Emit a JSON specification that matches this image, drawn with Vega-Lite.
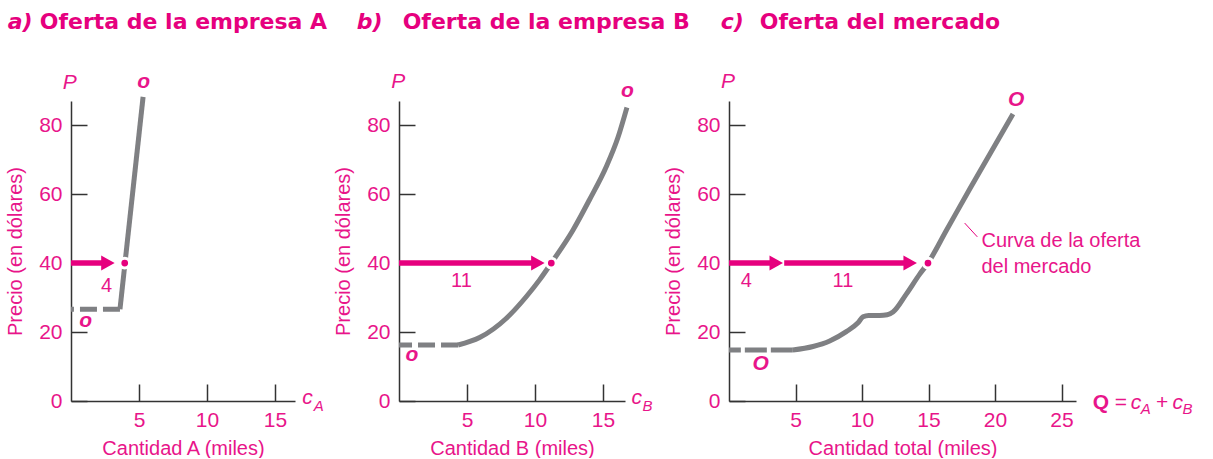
{
  "$schema": "https://vega.github.io/schema/vega-lite/v6.json",
  "padding": {"left": 5, "top": 10, "right": 0, "bottom": 0},
  "background": "white",
  "spacing": 104,
  "bounds": "flush",
  "config": {
    "view": {"stroke": null},
    "axis": {
      "grid": false, "domainColor": "#333333", "domainWidth": 1.5, "tickColor": "#333333", "tickWidth": 1.5,
      "labelColor": "#e8158a", "labelFont": "Liberation Sans", "labelFontSize": 21, "labelFlush": false,
      "titleColor": "#e8158a", "titleFont": "Liberation Sans", "titleFontSize": 20, "titleFontWeight": "normal"
    }
  },
  "hconcat": [
    {
      "width": 224, "height": 300,
      "encoding": {
        "x": {"field": "x", "type": "quantitative", "scale": {"domain": [0, 16.47], "nice": false},
              "axis": {"values": [5, 10, 15], "tickSize": -17, "labelPadding": 25, "title": "Cantidad A (miles)", "titlePadding": 8}},
        "y": {"field": "y", "type": "quantitative", "scale": {"domain": [0, 87], "nice": false},
              "axis": {"values": [0, 20, 40, 60, 80], "tickSize": -16, "labelPadding": 25, "title": "Precio (en dólares)", "titlePadding": 13}}
      },
      "layer": [
        {"data": {"values": [{"x": 3.6, "y": 26.6, "o": 1}, {"x": 0, "y": 26.6, "o": 2}]},
         "mark": {"type": "line", "color": "#7f8083", "strokeWidth": 5, "strokeDash": [17, 6]},
         "encoding": {"order": {"field": "o"}}},
        {"data": {"values": [{"x": 3.6, "y": 26.6}, {"x": 5.3, "y": 88.2}]},
         "mark": {"type": "line", "color": "#7f8083", "strokeWidth": 5}},
        {"data": {"values": [{"y": 10}, {"y": 30}, {"y": 50}, {"y": 70}]},
         "mark": {"type": "rule", "color": "#333333", "strokeWidth": 1.5},
         "encoding": {"x": {"datum": 0}, "x2": {"datum": 0.81}}},
        {"data": {"values": [{"x": 0, "x2": 2.8, "y": 40}]},
         "mark": {"type": "rule", "color": "#e6007e", "strokeWidth": 5.5},
         "encoding": {"x2": {"field": "x2"}}},
        {"data": {"values": [{"x": 3.21, "y": 40}]},
         "mark": {"type": "point", "shape": "M-1.8,-1L0,0L-1.8,1Z", "size": 225, "filled": true, "color": "#e6007e", "opacity": 1}},
        {"data": {"values": [{"x": 3.95, "y": 40}]},
         "mark": {"type": "point", "shape": "circle", "size": 95, "filled": true, "fill": "#e6007e", "stroke": "white", "strokeWidth": 3, "opacity": 1}},
        {"data": {"values": [{"x": 2.62, "y": 33.4, "t": "4"}]},
         "mark": {"type": "text", "font": "Liberation Sans", "fontSize": 20, "color": "#e8158a", "align": "center", "baseline": "middle"},
         "encoding": {"text": {"field": "t"}}},
        {"data": {"values": [{"x": -0.1, "y": 92.3, "t": "P"}]},
         "mark": {"type": "text", "font": "Liberation Sans", "fontSize": 21, "fontStyle": "italic", "color": "#e8158a", "align": "center", "baseline": "middle"},
         "encoding": {"text": {"field": "t"}}},
        {"data": {"values": [{"x": 5.35, "y": 92.4, "t": "o"}, {"x": 1.08, "y": 23.2, "t": "o"}]},
         "mark": {"type": "text", "font": "Liberation Sans", "fontSize": 21, "fontStyle": "italic", "fontWeight": "bold", "color": "#e8158a", "align": "center", "baseline": "middle"},
         "encoding": {"text": {"field": "t"}}},
        {"data": {"values": [{"x": 17.0, "y": -0.9, "t": "c"}]},
         "mark": {"type": "text", "font": "Liberation Sans", "fontSize": 21, "fontStyle": "italic", "color": "#e8158a", "align": "left", "baseline": "alphabetic"},
         "encoding": {"text": {"field": "t"}}},
        {"data": {"values": [{"x": 17.85, "y": -2.8, "t": "A"}]},
         "mark": {"type": "text", "font": "Liberation Sans", "fontSize": 15, "fontStyle": "italic", "color": "#e8158a", "align": "left", "baseline": "alphabetic"},
         "encoding": {"text": {"field": "t"}}},
        {"data": {"values": [{"x": -4.65, "y": 108, "t": "a)"}]},
         "mark": {"type": "text", "font": "DejaVu Sans", "fontSize": 22, "fontWeight": "bold", "fontStyle": "italic", "color": "#e6007e", "align": "left", "baseline": "alphabetic"},
         "encoding": {"text": {"field": "t"}}},
        {"data": {"values": [{"x": -2.3, "y": 108, "t": "Oferta de la empresa A"}]},
         "mark": {"type": "text", "font": "DejaVu Sans", "fontSize": 22, "fontWeight": "bold", "color": "#e6007e", "align": "left", "baseline": "alphabetic"},
         "encoding": {"text": {"field": "t"}}}
      ]
    },
    {
      "width": 226, "height": 300,
      "encoding": {
        "x": {"field": "x", "type": "quantitative", "scale": {"domain": [0, 16.62], "nice": false},
              "axis": {"values": [5, 10, 15], "tickSize": -17, "labelPadding": 25, "title": "Cantidad B (miles)", "titlePadding": 8}},
        "y": {"field": "y", "type": "quantitative", "scale": {"domain": [0, 87], "nice": false},
              "axis": {"values": [0, 20, 40, 60, 80], "tickSize": -16, "labelPadding": 25, "title": "Precio (en dólares)", "titlePadding": 13}}
      },
      "layer": [
        {"data": {"values": [{"x": 4.34, "y": 16.25, "o": 1}, {"x": 0, "y": 16.25, "o": 2}]},
         "mark": {"type": "line", "color": "#7f8083", "strokeWidth": 5, "strokeDash": [17, 6]},
         "encoding": {"order": {"field": "o"}}},
        {"data": {"values": [
          {"x": 4.34, "y": 16.25}, {"x": 5.93, "y": 18.4}, {"x": 7.9, "y": 24.0}, {"x": 9.37, "y": 30.3},
          {"x": 10.35, "y": 35.2}, {"x": 11.2, "y": 40}, {"x": 12.8, "y": 49.6}, {"x": 14.0, "y": 58.3},
          {"x": 15.25, "y": 68.0}, {"x": 16.1, "y": 76.4}, {"x": 16.76, "y": 85.1}]},
         "mark": {"type": "line", "color": "#7f8083", "strokeWidth": 5, "interpolate": "monotone"}},
        {"data": {"values": [{"y": 10}, {"y": 30}, {"y": 50}, {"y": 70}]},
         "mark": {"type": "rule", "color": "#333333", "strokeWidth": 1.5},
         "encoding": {"x": {"datum": 0}, "x2": {"datum": 0.81}}},
        {"data": {"values": [{"x": 0, "x2": 10.3, "y": 40}]},
         "mark": {"type": "rule", "color": "#e6007e", "strokeWidth": 5.5},
         "encoding": {"x2": {"field": "x2"}}},
        {"data": {"values": [{"x": 10.71, "y": 40}]},
         "mark": {"type": "point", "shape": "M-1.8,-1L0,0L-1.8,1Z", "size": 225, "filled": true, "color": "#e6007e", "opacity": 1}},
        {"data": {"values": [{"x": 11.2, "y": 40}]},
         "mark": {"type": "point", "shape": "circle", "size": 95, "filled": true, "fill": "#e6007e", "stroke": "white", "strokeWidth": 3, "opacity": 1}},
        {"data": {"values": [{"x": 4.59, "y": 34.8, "t": "11"}]},
         "mark": {"type": "text", "font": "Liberation Sans", "fontSize": 20, "color": "#e8158a", "align": "center", "baseline": "middle"},
         "encoding": {"text": {"field": "t"}}},
        {"data": {"values": [{"x": -0.05, "y": 92.4, "t": "P"}]},
         "mark": {"type": "text", "font": "Liberation Sans", "fontSize": 21, "fontStyle": "italic", "color": "#e8158a", "align": "center", "baseline": "middle"},
         "encoding": {"text": {"field": "t"}}},
        {"data": {"values": [{"x": 16.8, "y": 89.8, "t": "o"}, {"x": 0.95, "y": 13.4, "t": "o"}]},
         "mark": {"type": "text", "font": "Liberation Sans", "fontSize": 21, "fontStyle": "italic", "fontWeight": "bold", "color": "#e8158a", "align": "center", "baseline": "middle"},
         "encoding": {"text": {"field": "t"}}},
        {"data": {"values": [{"x": 17.09, "y": -0.9, "t": "c"}]},
         "mark": {"type": "text", "font": "Liberation Sans", "fontSize": 21, "fontStyle": "italic", "color": "#e8158a", "align": "left", "baseline": "alphabetic"},
         "encoding": {"text": {"field": "t"}}},
        {"data": {"values": [{"x": 17.9, "y": -2.8, "t": "B"}]},
         "mark": {"type": "text", "font": "Liberation Sans", "fontSize": 15, "fontStyle": "italic", "color": "#e8158a", "align": "left", "baseline": "alphabetic"},
         "encoding": {"text": {"field": "t"}}},
        {"data": {"values": [{"x": -3.11, "y": 108, "t": "b)"}]},
         "mark": {"type": "text", "font": "DejaVu Sans", "fontSize": 22, "fontWeight": "bold", "fontStyle": "italic", "color": "#e6007e", "align": "left", "baseline": "alphabetic"},
         "encoding": {"text": {"field": "t"}}},
        {"data": {"values": [{"x": 0.27, "y": 108, "t": "Oferta de la empresa B"}]},
         "mark": {"type": "text", "font": "DejaVu Sans", "fontSize": 22, "fontWeight": "bold", "color": "#e6007e", "align": "left", "baseline": "alphabetic"},
         "encoding": {"text": {"field": "t"}}}
      ]
    },
    {
      "width": 347, "height": 300,
      "encoding": {
        "x": {"field": "x", "type": "quantitative", "scale": {"domain": [0, 26.09], "nice": false},
              "axis": {"values": [5, 10, 15, 20, 25], "tickSize": -17, "labelPadding": 25, "title": "Cantidad total (miles)", "titlePadding": 8}},
        "y": {"field": "y", "type": "quantitative", "scale": {"domain": [0, 87], "nice": false},
              "axis": {"values": [0, 20, 40, 60, 80], "tickSize": -16, "labelPadding": 25, "title": "Precio (en dólares)", "titlePadding": 13}}
      },
      "layer": [
        {"data": {"values": [{"x": 4.8, "y": 14.8, "o": 1}, {"x": 0, "y": 14.8, "o": 2}]},
         "mark": {"type": "line", "color": "#7f8083", "strokeWidth": 5, "strokeDash": [22, 4]},
         "encoding": {"order": {"field": "o"}}},
        {"data": {"values": [
          {"x": 4.8, "y": 14.8}, {"x": 6.32, "y": 15.8}, {"x": 7.57, "y": 17.4}, {"x": 8.82, "y": 20.1},
          {"x": 9.7, "y": 22.7}, {"x": 10.08, "y": 24.4}, {"x": 10.5, "y": 24.8}, {"x": 11.33, "y": 24.8},
          {"x": 11.9, "y": 25.0}, {"x": 12.33, "y": 25.8}, {"x": 13.33, "y": 31}, {"x": 14.34, "y": 36.8},
          {"x": 14.96, "y": 40}, {"x": 16.35, "y": 49.5}, {"x": 18.1, "y": 61.5}, {"x": 21.35, "y": 83.2}]},
         "mark": {"type": "line", "color": "#7f8083", "strokeWidth": 5, "interpolate": "monotone"}},
        {"data": {"values": [{"y": 10}, {"y": 30}, {"y": 50}, {"y": 70}]},
         "mark": {"type": "rule", "color": "#333333", "strokeWidth": 1.5},
         "encoding": {"x": {"datum": 0}, "x2": {"datum": 0.83}}},
        {"data": {"values": [{"x": 0, "x2": 3.65, "y": 40}, {"x": 4.15, "x2": 13.7, "y": 40}]},
         "mark": {"type": "rule", "color": "#e6007e", "strokeWidth": 5.5},
         "encoding": {"x2": {"field": "x2"}}},
        {"data": {"values": [{"x": 4.06, "y": 40}, {"x": 14.13, "y": 40}]},
         "mark": {"type": "point", "shape": "M-1.8,-1L0,0L-1.8,1Z", "size": 225, "filled": true, "color": "#e6007e", "opacity": 1}},
        {"data": {"values": [{"x": 14.96, "y": 40}]},
         "mark": {"type": "point", "shape": "circle", "size": 95, "filled": true, "fill": "#e6007e", "stroke": "white", "strokeWidth": 3, "opacity": 1}},
        {"data": {"values": [{"x": 17.72, "y": 51.6, "x2": 18.67, "y2": 47.6}]},
         "mark": {"type": "rule", "color": "#e6007e", "strokeWidth": 1},
         "encoding": {"x2": {"field": "x2"}, "y2": {"field": "y2"}}},
        {"data": {"values": [{"x": 1.31, "y": 34.8, "t": "4"}, {"x": 8.57, "y": 34.8, "t": "11"}]},
         "mark": {"type": "text", "font": "Liberation Sans", "fontSize": 20, "color": "#e8158a", "align": "center", "baseline": "middle"},
         "encoding": {"text": {"field": "t"}}},
        {"data": {"values": [{"x": 18.98, "y": 46.4, "t": "Curva de la oferta"}, {"x": 18.98, "y": 38.9, "t": "del mercado"}]},
         "mark": {"type": "text", "font": "Liberation Sans", "fontSize": 20, "color": "#e8158a", "align": "left", "baseline": "middle"},
         "encoding": {"text": {"field": "t"}}},
        {"data": {"values": [{"x": -0.08, "y": 92.4, "t": "P"}]},
         "mark": {"type": "text", "font": "Liberation Sans", "fontSize": 21, "fontStyle": "italic", "color": "#e8158a", "align": "center", "baseline": "middle"},
         "encoding": {"text": {"field": "t"}}},
        {"data": {"values": [{"x": 21.6, "y": 87.3, "t": "O"}, {"x": 2.38, "y": 10.6, "t": "O"}]},
         "mark": {"type": "text", "font": "Liberation Sans", "fontSize": 21, "fontStyle": "italic", "fontWeight": "bold", "color": "#e8158a", "align": "center", "baseline": "middle"},
         "encoding": {"text": {"field": "t"}}},
        {"data": {"values": [{"x": 27.35, "y": -2.3, "t": "Q"}]},
         "mark": {"type": "text", "font": "Liberation Sans", "fontSize": 21, "fontWeight": "bold", "color": "#e8158a", "align": "left", "baseline": "alphabetic"},
         "encoding": {"text": {"field": "t"}}},
        {"data": {"values": [{"x": 29.0, "y": -2.3, "t": "="}, {"x": 32.1, "y": -2.3, "t": "+"}]},
         "mark": {"type": "text", "font": "Liberation Sans", "fontSize": 21, "color": "#e8158a", "align": "left", "baseline": "alphabetic"},
         "encoding": {"text": {"field": "t"}}},
        {"data": {"values": [{"x": 30.2, "y": -2.3, "t": "c"}, {"x": 33.35, "y": -2.3, "t": "c"}]},
         "mark": {"type": "text", "font": "Liberation Sans", "fontSize": 21, "fontStyle": "italic", "color": "#e8158a", "align": "left", "baseline": "alphabetic"},
         "encoding": {"text": {"field": "t"}}},
        {"data": {"values": [{"x": 30.95, "y": -3.9, "t": "A"}, {"x": 34.1, "y": -3.9, "t": "B"}]},
         "mark": {"type": "text", "font": "Liberation Sans", "fontSize": 15, "fontStyle": "italic", "color": "#e8158a", "align": "left", "baseline": "alphabetic"},
         "encoding": {"text": {"field": "t"}}},
        {"data": {"values": [{"x": -0.62, "y": 108, "t": "c)"}]},
         "mark": {"type": "text", "font": "DejaVu Sans", "fontSize": 22, "fontWeight": "bold", "fontStyle": "italic", "color": "#e6007e", "align": "left", "baseline": "alphabetic"},
         "encoding": {"text": {"field": "t"}}},
        {"data": {"values": [{"x": 2.31, "y": 108, "t": "Oferta del mercado"}]},
         "mark": {"type": "text", "font": "DejaVu Sans", "fontSize": 22, "fontWeight": "bold", "color": "#e6007e", "align": "left", "baseline": "alphabetic"},
         "encoding": {"text": {"field": "t"}}}
      ]
    }
  ]
}
